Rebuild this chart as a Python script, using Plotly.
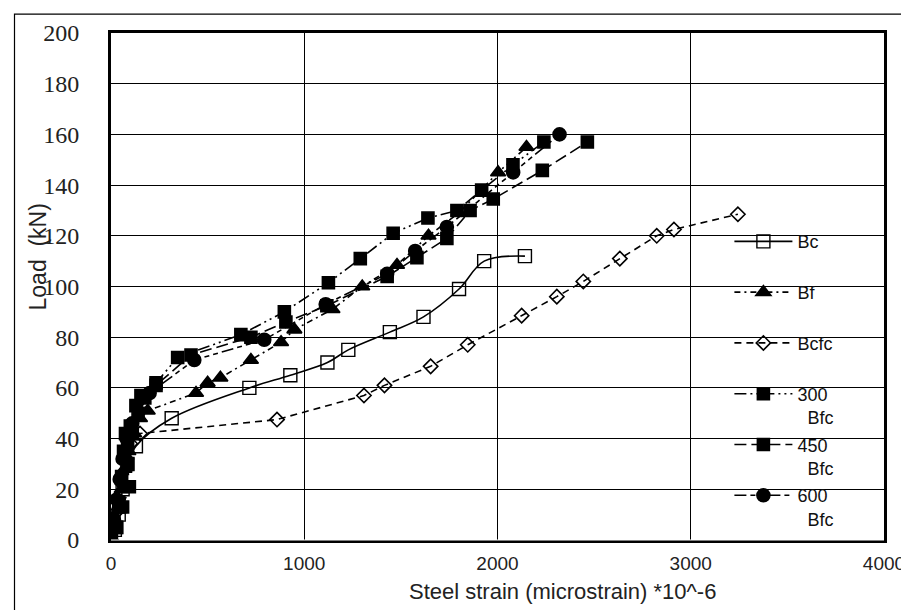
import plotly.graph_objects as go

# ---------------- data ----------------
bc_strain = [0, 20, 40, 60, 85, 129, 314, 716, 928, 1120, 1228, 1443, 1617, 1801, 1931, 2142]
bc_load = [0, 4, 10, 20, 30, 37, 48, 60, 65, 70, 75, 82, 88, 99, 110, 112]

bf_strain = [0, 20, 40, 55, 70, 90, 120, 150, 190, 440, 500, 566, 724, 880, 949, 1146, 1300, 1480, 1643, 1800, 2003, 2150]
bf_load = [0, 5, 12, 20, 28, 35, 42, 48, 51, 58, 62, 64, 71, 78, 83, 91, 100, 108.5, 120, 129, 145, 155]

bcfc_strain = [0, 20, 40, 60, 80, 100, 150, 859, 1309, 1415, 1654, 1846, 2125, 2307, 2444, 2633, 2824, 2913, 3244]
bcfc_load = [0, 5, 12, 22, 32, 38, 42, 47.5, 57, 61, 68.5, 77, 88.5, 96, 102, 111, 120, 122.5, 128.5]

bfc300_strain = [0, 25, 40, 55, 65, 75, 100, 129, 155, 233, 345, 672, 897, 1125, 1290, 1460, 1640, 1790, 1918, 2080, 2240]
bfc300_load = [0, 5, 15, 25, 35, 42, 45, 53, 57, 62, 72, 81, 90, 101.5, 111, 121, 127, 130, 138, 148, 157]

bfc450_strain = [0, 30, 60, 95, 86, 86, 110, 140, 175, 233, 414, 724, 905, 1117, 1429, 1583, 1738, 1858, 1978, 2232, 2465]
bfc450_load = [0, 5, 13, 21, 30, 37, 42, 50, 56, 61, 73, 80, 86, 92.4, 104, 111.4, 119, 130, 134.5, 145.8, 157]

bfc600_strain = [0, 15, 30, 45, 60, 80, 110, 200, 431, 793, 1111, 1429, 1574, 1738, 2081, 2321]
bfc600_load = [0, 8, 16, 24, 32, 40, 46, 58, 71, 79, 93, 105, 114, 123.5, 145, 160]

NB = "\u00a0"
series_names = ["Bc<br>" + NB, "Bf<br>" + NB, "Bcfc<br>" + NB,
                "300<br>" + NB * 2 + "Bfc", "450<br>" + NB * 2 + "Bfc", "600<br>" + NB * 2 + "Bfc"]

x_ticks = [0, 1000, 2000, 3000, 4000]
y_ticks = list(range(0, 201, 20))

# ---------------- figure ----------------
fig = go.Figure()

styles = [
    (bc_strain, bc_load, "square-open", "solid", 13, "spline", 1.4),
    (bf_strain, bf_load, "triangle-up", "6px,4px,2px,4px", 13, "linear", 1.6),
    (bcfc_strain, bcfc_load, "diamond-open", "7px,5px", 11, "linear", 1.6),
    (bfc300_strain, bfc300_load, "square", "12px,4px,2px,4px,2px,4px", 12, "linear", 1.6),
    (bfc450_strain, bfc450_load, "square", "12px,5px", 12, "linear", 1.6),
    (bfc600_strain, bfc600_load, "circle", "12px,4px,5px,4px,5px,4px", 13, "linear", 1.6),
]

for i, (xs, ys, sym, dash, size, shape, mlw) in enumerate(styles):
    fig.add_trace(go.Scatter(
        x=xs, y=ys, name=series_names[i], mode="lines+markers",
        legendgroup="g%d" % i,
        line=dict(color="black", width=1.6, dash=dash, shape=shape),
        marker=dict(symbol=sym, size=size, color="black",
                    line=dict(color="black", width=mlw)),
    ))

L, R, T, B = 103, 29, 23, 78
W, H = 909, 610
pw, ph = W - L - R, H - T - B

SANS = "Liberation Sans, Arial, sans-serif"
SERIF = "Liberation Serif, Times New Roman, serif"

fig.update_layout(
    width=W, height=H,
    margin=dict(l=L, r=R, t=T, b=B),
    paper_bgcolor="white", plot_bgcolor="white",
    showlegend=True,
    legend=dict(
        x=0.80, y=0.625, xanchor="left", yanchor="top",
        bgcolor="rgba(0,0,0,0)", borderwidth=0,
        font=dict(family=SANS, size=18, color="#111"),
        valign="top", tracegroupgap=1,
        itemwidth=58,
    ),
    xaxis=dict(
        range=[0, 4000], tickvals=x_ticks, ticktext=[str(v) for v in x_ticks],
        showgrid=True, gridcolor="black", gridwidth=1.2,
        zeroline=False, showline=True, linecolor="black", linewidth=3, mirror=True,
        ticks="", ticklabelstandoff=4,
        tickfont=dict(family=SANS, size=19, color="#222"),
    ),
    yaxis=dict(
        range=[0, 200], tickvals=y_ticks,
        showgrid=True, gridcolor="black", gridwidth=1.2,
        zeroline=False, showline=True, linecolor="black", linewidth=3, mirror=True,
        ticks="", ticklabelstandoff=24,
        tickfont=dict(family=SERIF, size=24, color="#222"),
    ),
    annotations=[
        dict(text="Steel strain (microstrain) *10^-6", xref="paper", yref="paper",
             x=(557 - L) / pw, y=(H - B - 584) / ph, xanchor="center", yanchor="middle",
             showarrow=False,
             font=dict(family=SANS, size=22, color="#222")),
        dict(text="Load  (kN)", xref="paper", yref="paper", textangle=-90,
             x=(30 - L) / pw, y=(H - B - 248) / ph, xanchor="center", yanchor="middle",
             showarrow=False,
             font=dict(family=SANS, size=23, color="#222")),
    ],
    shapes=[
        dict(type="rect", xref="paper", yref="paper",
             x0=(6 - L) / pw, x1=(905 - L) / pw, y0=(H - B - 608) / ph, y1=(H - B - 4) / ph,
             line=dict(color="black", width=1.2), fillcolor="rgba(0,0,0,0)", layer="below"),
        dict(type="line", xref="paper", yref="paper", x0=0, x1=1, y0=0, y1=0,
             line=dict(color="white", width=1), layer="above"),
    ],
)

fig.write_html("out.html")
